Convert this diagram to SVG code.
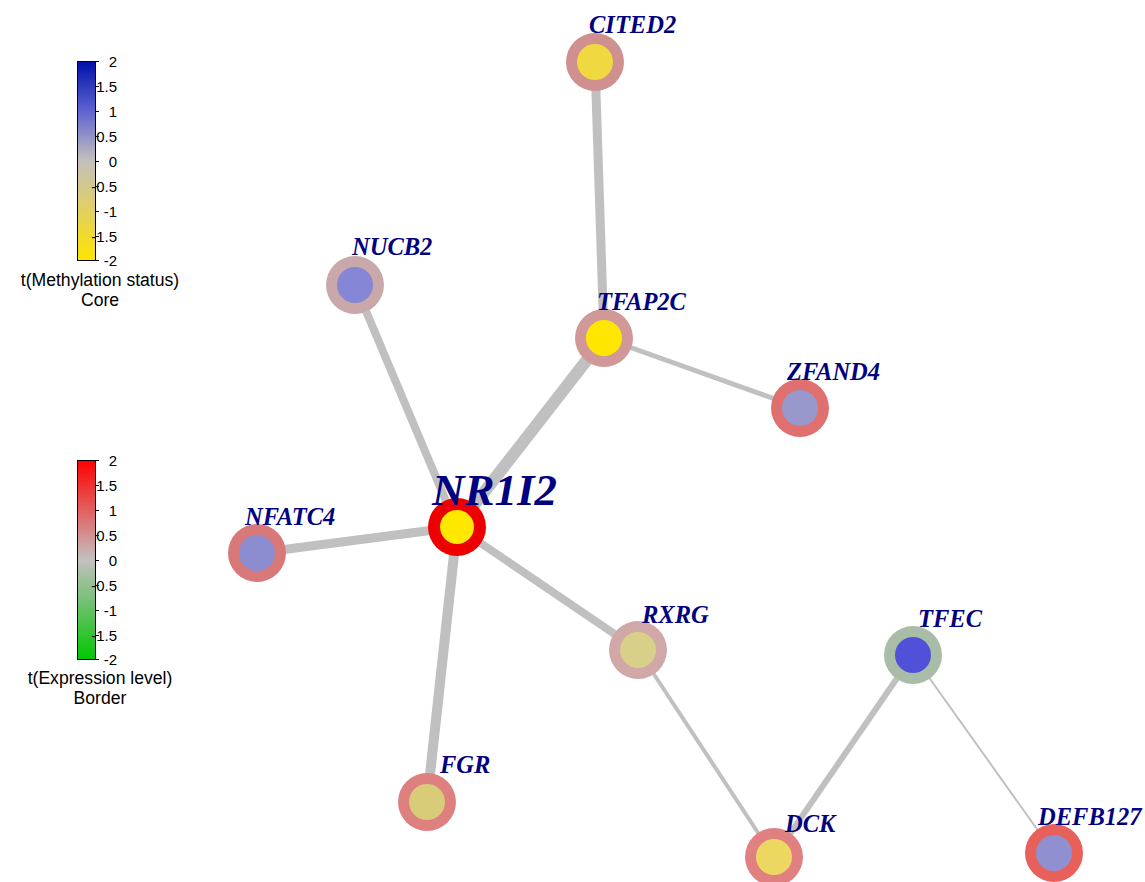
<svg xmlns="http://www.w3.org/2000/svg" width="1145" height="882" viewBox="0 0 1145 882">
<defs>
<linearGradient id="gMeth" x1="0" y1="0" x2="0" y2="1">
<stop offset="0" stop-color="#0010a8"/>
<stop offset="0.25" stop-color="#5f64d0"/>
<stop offset="0.5" stop-color="#c4c0bc"/>
<stop offset="0.75" stop-color="#e2d060"/>
<stop offset="1" stop-color="#ffe400"/>
</linearGradient>
<linearGradient id="gExp" x1="0" y1="0" x2="0" y2="1">
<stop offset="0" stop-color="#ff0000"/>
<stop offset="0.25" stop-color="#e26060"/>
<stop offset="0.5" stop-color="#c4c0c0"/>
<stop offset="0.75" stop-color="#64c064"/>
<stop offset="1" stop-color="#00c800"/>
</linearGradient>
<style>
.edge{stroke:#c0c0c0;fill:none;stroke-linecap:butt}
.lbl{font-family:"Liberation Serif","Times New Roman",serif;font-weight:bold;font-style:italic;font-size:24.5px;fill:#000080}
.tick{font-family:"Liberation Sans",Arial,sans-serif;font-size:15px;fill:#000;text-anchor:end}
.ttl{font-family:"Liberation Sans",Arial,sans-serif;font-size:17.6px;fill:#000;text-anchor:middle}
.bar{stroke:#000;stroke-width:1}
.tk{stroke:#000;stroke-width:1}
</style>
</defs>
<rect width="1145" height="882" fill="#fff"/>

<g id="legend-methylation">
<rect class="bar" x="77.5" y="61.5" width="18" height="199" fill="url(#gMeth)"/>
<g class="tk">
<line x1="95" y1="61.5" x2="99" y2="61.5"/><line x1="95" y1="86.5" x2="99" y2="86.5"/><line x1="95" y1="111.5" x2="99" y2="111.5"/><line x1="95" y1="136.5" x2="99" y2="136.5"/><line x1="95" y1="161.5" x2="99" y2="161.5"/><line x1="95" y1="186.5" x2="99" y2="186.5"/><line x1="95" y1="211.5" x2="99" y2="211.5"/><line x1="95" y1="236.5" x2="99" y2="236.5"/><line x1="95" y1="260.5" x2="99" y2="260.5"/>
</g>
<text class="tick" x="117" y="67">2</text>
<text class="tick" x="117" y="92">1.5</text>
<text class="tick" x="117" y="117">1</text>
<text class="tick" x="117" y="142">0.5</text>
<text class="tick" x="117" y="167">0</text>
<text class="tick" x="117" y="192">-0.5</text>
<text class="tick" x="117" y="217">-1</text>
<text class="tick" x="117" y="242">-1.5</text>
<text class="tick" x="117" y="266">-2</text>
<text class="ttl" x="100" y="286">t(Methylation status)</text>
<text class="ttl" x="100" y="306">Core</text>
</g>

<g id="legend-expression">
<rect class="bar" x="77.5" y="460.5" width="18" height="199" fill="url(#gExp)"/>
<g class="tk">
<line x1="95" y1="460.5" x2="99" y2="460.5"/><line x1="95" y1="485.5" x2="99" y2="485.5"/><line x1="95" y1="510.5" x2="99" y2="510.5"/><line x1="95" y1="535.5" x2="99" y2="535.5"/><line x1="95" y1="560.5" x2="99" y2="560.5"/><line x1="95" y1="585.5" x2="99" y2="585.5"/><line x1="95" y1="610.5" x2="99" y2="610.5"/><line x1="95" y1="635.5" x2="99" y2="635.5"/><line x1="95" y1="659.5" x2="99" y2="659.5"/>
</g>
<text class="tick" x="117" y="466">2</text>
<text class="tick" x="117" y="491">1.5</text>
<text class="tick" x="117" y="516">1</text>
<text class="tick" x="117" y="541">0.5</text>
<text class="tick" x="117" y="566">0</text>
<text class="tick" x="117" y="591">-0.5</text>
<text class="tick" x="117" y="616">-1</text>
<text class="tick" x="117" y="641">-1.5</text>
<text class="tick" x="117" y="665">-2</text>
<text class="ttl" x="100" y="684">t(Expression level)</text>
<text class="ttl" x="100" y="704">Border</text>
</g>

<g id="connectors">
<line class="edge" x1="457" y1="527" x2="355" y2="285" stroke-width="8"/>
<line class="edge" x1="457" y1="527" x2="604" y2="338" stroke-width="12"/>
<line class="edge" x1="604" y1="338" x2="595" y2="62" stroke-width="9"/>
<line class="edge" x1="604" y1="338" x2="800" y2="408" stroke-width="5"/>
<line class="edge" x1="457" y1="527" x2="257" y2="553" stroke-width="9"/>
<line class="edge" x1="457" y1="527" x2="427" y2="802" stroke-width="10"/>
<line class="edge" x1="457" y1="527" x2="638" y2="650" stroke-width="8"/>
<line class="edge" x1="638" y1="650" x2="774" y2="857" stroke-width="4"/>
<line class="edge" x1="774" y1="857" x2="913" y2="655" stroke-width="6"/>
<line class="edge" x1="913" y1="655" x2="1054" y2="853" stroke-width="2"/>
</g>

<g id="node-CITED2">
<circle cx="595" cy="62" r="29" fill="#d09090"/>
<circle cx="595" cy="62" r="18" fill="#f0d840"/>
<text class="lbl" x="589" y="33">CITED2</text>
</g>
<g id="node-TFAP2C">
<circle cx="604" cy="338" r="29" fill="#d09898"/>
<circle cx="604" cy="338" r="18" fill="#ffe600"/>
<text class="lbl" x="597" y="310">TFAP2C</text>
</g>
<g id="node-NUCB2">
<circle cx="355" cy="285" r="29" fill="#c8a8a8"/>
<circle cx="355" cy="285" r="18" fill="#8686d6"/>
<text class="lbl" x="352" y="255">NUCB2</text>
</g>
<g id="node-ZFAND4">
<circle cx="800" cy="408" r="29" fill="#e07070"/>
<circle cx="800" cy="408" r="18" fill="#9898cc"/>
<text class="lbl" x="787" y="380">ZFAND4</text>
</g>
<g id="node-NFATC4">
<circle cx="257" cy="553" r="29" fill="#d87878"/>
<circle cx="257" cy="553" r="18" fill="#8c8cd0"/>
<text class="lbl" x="245" y="525">NFATC4</text>
</g>
<g id="node-NR1I2">
<circle cx="457" cy="527" r="29" fill="#ee0000"/>
<circle cx="457" cy="527" r="17" fill="#ffe800"/>
<text class="lbl" x="432" y="505" style="font-size:45px">NR1I2</text>
</g>
<g id="node-RXRG">
<circle cx="638" cy="650" r="29" fill="#d0a8a8"/>
<circle cx="638" cy="650" r="18" fill="#d8d088"/>
<text class="lbl" x="642" y="623">RXRG</text>
</g>
<g id="node-TFEC">
<circle cx="913" cy="655" r="29" fill="#a8bca8"/>
<circle cx="913" cy="655" r="18" fill="#5050d8"/>
<text class="lbl" x="918" y="627">TFEC</text>
</g>
<g id="node-FGR">
<circle cx="427" cy="802" r="29" fill="#de8080"/>
<circle cx="427" cy="802" r="18" fill="#d8cc78"/>
<text class="lbl" x="440" y="773">FGR</text>
</g>
<g id="node-DCK">
<circle cx="774" cy="857" r="29" fill="#e08080"/>
<circle cx="774" cy="857" r="18" fill="#ecd860"/>
<text class="lbl" x="785" y="832">DCK</text>
</g>
<g id="node-DEFB127">
<circle cx="1054" cy="853" r="29" fill="#e8605a"/>
<circle cx="1054" cy="853" r="18" fill="#9090d0"/>
<text class="lbl" x="1038" y="825">DEFB127</text>
</g>
</svg>
